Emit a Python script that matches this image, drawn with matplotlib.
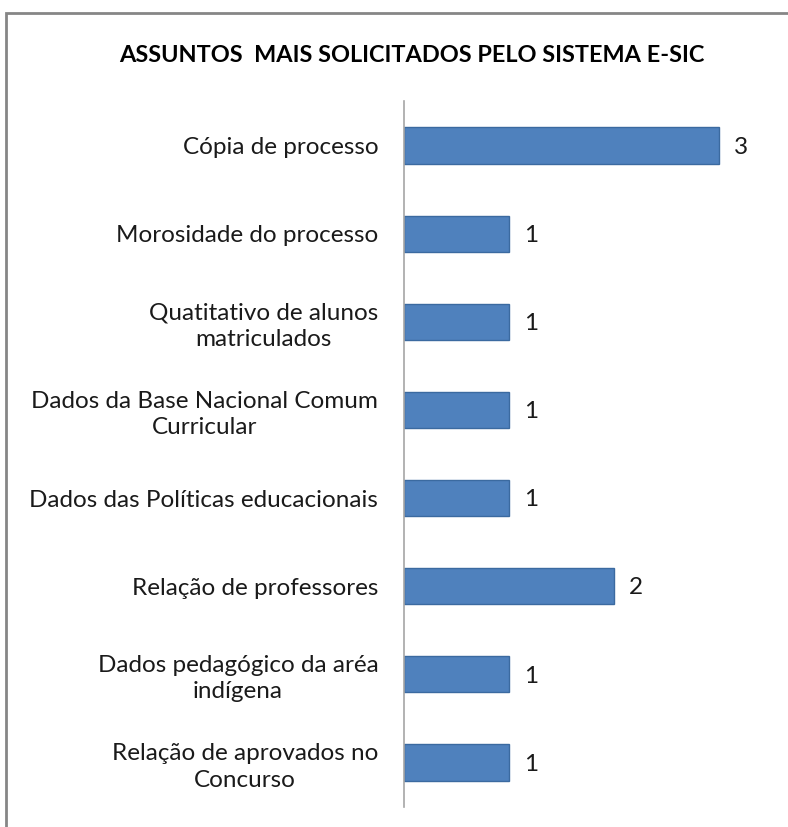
import matplotlib
matplotlib.use('Agg')
import matplotlib.pyplot as plt
from matplotlib.patches import Rectangle

plt.rcParams['font.family'] = ['Lato', 'DejaVu Sans']

# data
assuntos = [
    'Cópia de processo',
    'Morosidade do processo',
    'Quatitativo de alunos\nmatriculados',
    'Dados da Base Nacional Comum\nCurricular',
    'Dados das Políticas educacionais',
    'Relação de professores',
    'Dados pedagógico da aréa\nindígena',
    'Relação de aprovados no\nConcurso',
]
quantidade = [3, 1, 1, 1, 1, 2, 1, 1]
titulo = 'ASSUNTOS  MAIS SOLICITADOS PELO SISTEMA E-SIC'

fig = plt.figure(figsize=(7.88, 8.27), dpi=100)
ax = fig.add_axes([0.5127, 0.0247, 0.4663, 0.8527])

pos = list(range(len(assuntos)))
bars = ax.barh(pos, quantidade, height=0.41, color='#4F81BD',
               edgecolor='#3B6AA0', linewidth=1)
ax.set_ylim(len(assuntos) - 0.5, -0.5)
ax.set_xlim(0, 3.5)

ax.set_yticks(pos)
ax.set_yticklabels(assuntos, fontsize=17.5, color='#1a1a1a')
for t in ax.get_yticklabels():
    t.set_multialignment('center')
    t.set_linespacing(1.3)
ax.tick_params(axis='y', length=0, pad=18.5)
ax.set_xticks([])

for s in ['top', 'right', 'bottom']:
    ax.spines[s].set_visible(False)
ax.spines['left'].set_color('#A6A6A6')
ax.spines['left'].set_linewidth(1.2)

for b, v in zip(bars, quantidade):
    ax.text(b.get_width() + 0.14, b.get_y() + b.get_height() / 2 + 0.02, str(v),
            va='center', ha='left', fontsize=17.5, color='#1a1a1a')

fig.text(0.522, 0.933, titulo, ha='center', va='center',
         fontsize=16.9, fontweight='bold', color='black')

# outer chart frame (cropped at right and bottom)
fig.add_artist(Rectangle((6 / 788, -0.05), 1.1, 1 - 13 / 827 + 0.05,
                         transform=fig.transFigure, fill=False,
                         edgecolor='#868686', linewidth=2))

plt.savefig('out.png', dpi=100)
